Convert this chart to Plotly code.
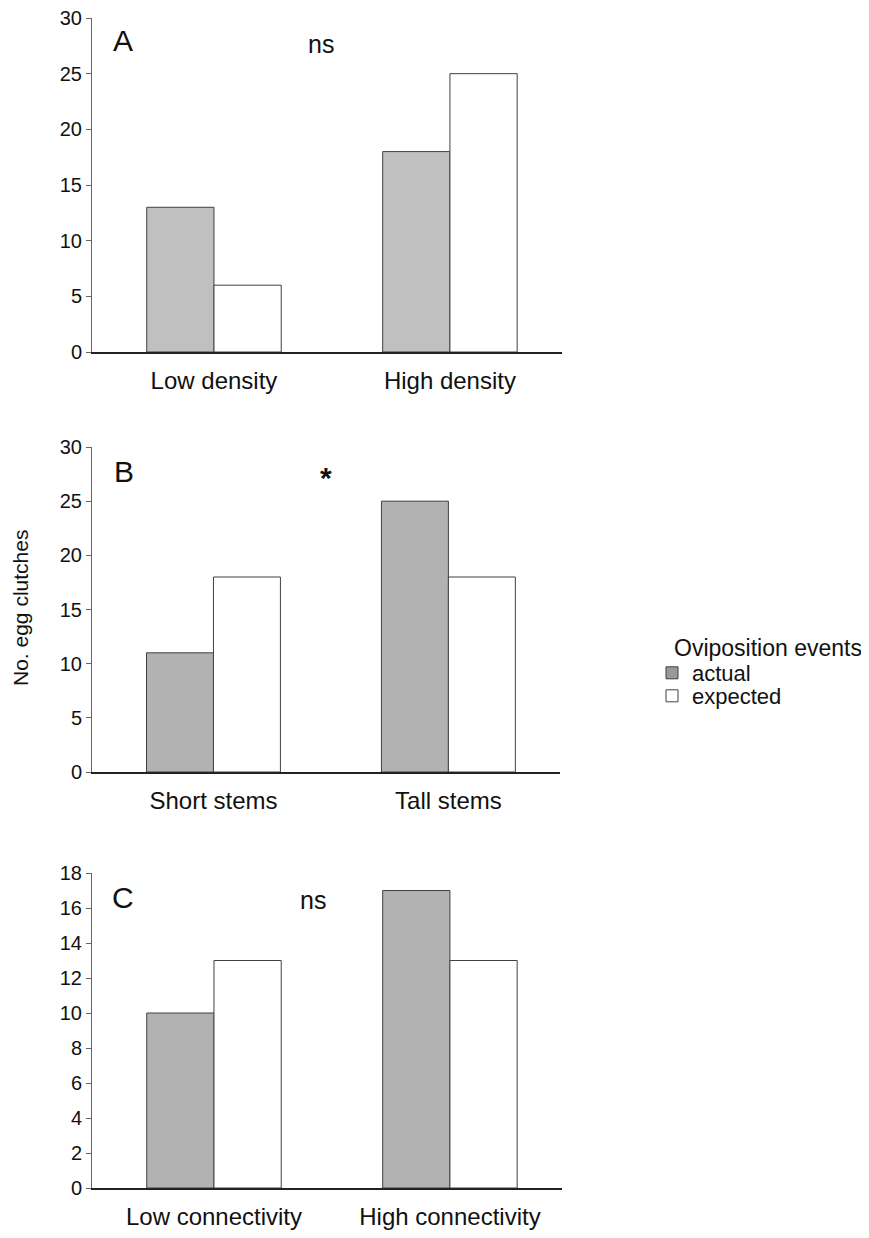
import plotly.graph_objects as go

cats_a = ["Low density", "High density"]
actual_a = [13, 18]
expected_a = [6, 25]

cats_b = ["Short stems", "Tall stems"]
actual_b = [11, 25]
expected_b = [18, 18]

cats_c = ["Low connectivity", "High connectivity"]
actual_c = [10, 17]
expected_c = [13, 13]

panel_letters = ["A", "B", "C"]
signif = ["ns", "*", "ns"]

W, H = 869, 1238
OFF = 8  # page body margin
FONT = "Liberation Sans, Arial, sans-serif"

def py(px):
    return 1 - (px - OFF) / H

def pxx(px):
    return (px - OFF) / W

panels = [
    dict(cats=cats_a, act=actual_a, exp=expected_a, top=18, bot=352, rng=30, dtick=5,
         col="#c0c0c0", xend=562),
    dict(cats=cats_b, act=actual_b, exp=expected_b, top=447, bot=772, rng=30, dtick=5,
         col="#b2b2b2", xend=560),
    dict(cats=cats_c, act=actual_c, exp=expected_c, top=873, bot=1188, rng=18, dtick=2,
         col="#b2b2b2", xend=562),
]

fig = go.Figure()
layout = dict()
annotations = []
for i, p in enumerate(panels):
    n = "" if i == 0 else str(i + 1)
    xa, ya = "x" + n, "y" + n
    fig.add_trace(go.Bar(x=[0, 1], y=p["act"], name="actual", marker=dict(color=p["col"], line=dict(color="#404040", width=1)),
                         xaxis=xa, yaxis=ya, showlegend=False, offsetgroup="a"))
    fig.add_trace(go.Bar(x=[0, 1], y=p["exp"], name="expected", marker=dict(color="white", line=dict(color="#404040", width=1)),
                         xaxis=xa, yaxis=ya, showlegend=False, offsetgroup="e"))
    layout["xaxis" + n] = dict(domain=[pxx(92), pxx(p["xend"])], anchor=ya, range=[-0.517, 1.475],
                               tickvals=[0, 1], ticktext=p["cats"], showline=True, linecolor="#222",
                               linewidth=1.5, ticks="", showgrid=False, zeroline=False, automargin=False,
                               ticklabelstandoff=6, ticklabeloverflow="allow",
                               tickfont=dict(family=FONT, size=24, color="#111"))
    layout["yaxis" + n] = dict(domain=[py(p["bot"]), py(p["top"])], anchor=xa, range=[0, p["rng"]],
                               dtick=p["dtick"], showline=True, linecolor="#666", linewidth=1,
                               ticks="outside", ticklen=5, tickcolor="#666", showgrid=False,
                               zeroline=False, automargin=False, ticklabeloverflow="allow",
                               tickfont=dict(family=FONT, size=20, color="#111"))

letter_pos = [(123, 40), (124, 471), (123, 897)]
for i, (lx, ly) in enumerate(letter_pos):
    annotations.append(dict(text=panel_letters[i], xref="paper", yref="paper",
                            x=pxx(lx), y=py(ly), xanchor="center", yanchor="middle", showarrow=False,
                            font=dict(family=FONT, size=30, color="#111")))

sig_pos = [(321, 44), (326, 477), (313, 900)]
for i, (sx, sy) in enumerate(sig_pos):
    txt = "<b>*</b>" if signif[i] == "*" else signif[i]
    annotations.append(dict(text=txt, xref="paper", yref="paper", x=pxx(sx), y=py(sy),
                            xanchor="center", yanchor="middle", showarrow=False,
                            font=dict(family=FONT, size=30 if signif[i] == "*" else 25, color="#111")))

annotations.append(dict(text="No. egg clutches", xref="paper", yref="paper", x=pxx(20), y=py(608),
                        xanchor="center", yanchor="middle",
                        textangle=-90, showarrow=False, font=dict(family=FONT, size=21, color="#111")))
annotations.append(dict(text="Oviposition events", xref="paper", yref="paper", x=pxx(672), y=py(648),
                        xanchor="left", yanchor="middle", showarrow=False,
                        font=dict(family=FONT, size=23, color="#111")))

# legend entries
fig.add_trace(go.Bar(x=[None], y=[None], name="actual", marker=dict(color="#999999", line=dict(color="#404040", width=1)),
                     xaxis="x2", yaxis="y2", showlegend=True, legend="legend"))
fig.add_trace(go.Bar(x=[None], y=[None], name="expected", marker=dict(color="white", line=dict(color="#404040", width=1)),
                     xaxis="x2", yaxis="y2", showlegend=True, legend="legend2"))

leg_common = dict(xanchor="left", yanchor="middle", font=dict(family=FONT, size=22, color="#111"),
                  itemwidth=30, bgcolor="rgba(0,0,0,0)", borderwidth=0)

fig.update_layout(
    width=W, height=H, margin=dict(l=0, r=0, t=0, b=0, autoexpand=False),
    plot_bgcolor="white", paper_bgcolor="white",
    barmode="group", bargap=0.43, bargroupgap=0,
    annotations=annotations,
    legend=dict(x=pxx(652), y=py(673), **leg_common),
    legend2=dict(x=pxx(652), y=py(696), **leg_common),
    **layout,
)
fig.write_html("out.html")
